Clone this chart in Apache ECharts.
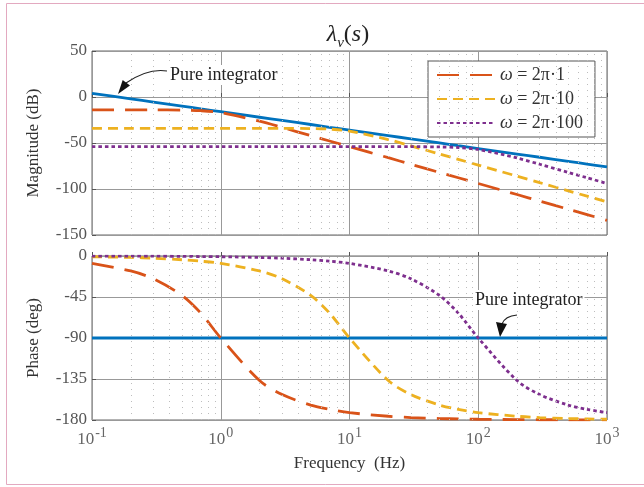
<!DOCTYPE html>
<html>
<head>
<meta charset="utf-8">
<script src="https://cdn.jsdelivr.net/npm/echarts@6/dist/echarts.min.js"></script>
<style>
  html, body { margin: 0; padding: 0; background: #fff; }
  #main { width: 644px; height: 487px; }
</style>
</head>
<body>
<div id="main"></div>
<script>
// frequency samples (Hz)
const freq = [0.1, 0.2, 0.3, 0.5, 0.7, 1, 2, 3, 5, 7, 10, 20, 30, 50, 70, 100, 200, 300, 500, 700, 1000];

// magnitude (dB)
const magInt  = [4.0, -2.0, -5.5, -9.9, -12.9, -16.0, -22.0, -25.5, -29.9, -32.9, -36.0, -42.0, -45.5, -49.9, -52.9, -56.0, -62.0, -65.5, -69.9, -72.9, -76.0];
const magW1   = [-14, -14, -14, -14.3, -14.9, -17, -26.3, -33.1, -42, -47.8, -54, -66, -73.1, -82, -87.8, -94, -106, -113.1, -122, -127.8, -134];
const magW10  = [-34, -34, -34, -34, -34, -34, -34, -34, -34.3, -34.9, -37, -46.3, -53.1, -62, -67.8, -74, -86, -93.1, -102, -107.8, -114];
const magW100 = [-54, -54, -54, -54, -54, -54, -54, -54, -54, -54, -54, -54, -54, -54.3, -54.9, -57, -66.3, -73.1, -82, -87.8, -94];

// phase (deg)
const phInt  = [-90, -90, -90, -90, -90, -90, -90, -90, -90, -90, -90, -90, -90, -90, -90, -90, -90, -90, -90, -90, -90];
const phW1   = [-8.1, -16.4, -25.0, -43.3, -62.7, -90, -136.7, -152.1, -163.6, -168.3, -171.9, -175.9, -177.3, -178.4, -178.8, -179.2, -179.6, -179.7, -179.8, -179.9, -179.9];
const phW10  = [-0.8, -1.6, -2.4, -4.1, -5.7, -8.1, -16.4, -25.0, -43.3, -62.7, -90, -136.7, -152.1, -163.6, -168.3, -171.9, -175.9, -177.3, -178.4, -178.8, -179.2];
const phW100 = [-0.1, -0.2, -0.2, -0.4, -0.6, -0.8, -1.6, -2.4, -4.1, -5.7, -8.1, -16.4, -25.0, -43.3, -62.7, -90, -136.7, -152.1, -163.6, -168.3, -171.9];

const minorFreq = [0.2, 0.3, 0.4, 0.5, 0.6, 0.7, 0.8, 0.9, 2, 3, 4, 5, 6, 7, 8, 9,
  20, 30, 40, 50, 60, 70, 80, 90, 200, 300, 400, 500, 600, 700, 800, 900];

const names = ['ω = 2π·1', 'ω = 2π·10', 'ω = 2π·100'];
const colors = ['#D95319', '#EDB120', '#7E2F8E'];
const dashes = [[22, 11], [10, 6], [3.5, 3]];
const blue = '#0072BD';

const serif = '"Liberation Serif", "DejaVu Serif", serif';
const pairs = ys => freq.map((f, i) => [f, ys[i]]);

function curve(name, ys, idx, color, type) {
  return {
    name: name, type: 'line', xAxisIndex: idx, yAxisIndex: idx,
    data: pairs(ys), symbol: 'none', showSymbol: false, smooth: 0.3, silent: true,
    lineStyle: { color: color, width: 2.8, type: type },
    itemStyle: { color: color }, z: 3
  };
}
function minorGrid(idx) {
  return {
    type: 'line', xAxisIndex: idx, yAxisIndex: idx, data: [], silent: true,
    markLine: {
      silent: true, symbol: 'none', label: { show: false },
      lineStyle: { color: '#bdbdbd', width: 1, type: [1, 5] },
      data: minorFreq.map(f => ({ xAxis: f }))
    }
  };
}

const chart = echarts.init(document.getElementById('main'));

const xBase = {
  type: 'log', logBase: 10, min: 0.1, max: 1000,
  axisLine: { show: false },
  axisTick: { show: true, inside: true, length: 4, lineStyle: { color: '#555' } },
  splitLine: { show: true, lineStyle: { color: '#999', width: 1 } }
};
const yBase = {
  type: 'value',
  axisLine: { show: false },
  axisTick: { show: true, inside: true, length: 4, lineStyle: { color: '#555' } },
  splitLine: { show: true, lineStyle: { color: '#999', width: 1 } },
  axisLabel: { color: '#555', fontFamily: serif, fontSize: 17, margin: 5 },
  nameLocation: 'middle', nameGap: 50,
  nameTextStyle: { color: '#333', fontFamily: serif, fontSize: 17 }
};

const series = [
  minorGrid(0), minorGrid(1),
  curve('Pure integrator', magInt, 0, blue, 'solid'),
  curve('Pure integrator', phInt, 1, blue, 'solid')
];
names.forEach((n, k) => {
  series.push(curve(n, [magW1, magW10, magW100][k], 0, colors[k], dashes[k]));
  series.push(curve(n, [phW1, phW10, phW100][k], 1, colors[k], dashes[k]));
});

chart.setOption({
  animation: false,
  backgroundColor: '#fff',
  grid: [
    { left: 92, right: 37, top: 51, height: 184, show: true, borderColor: '#666', borderWidth: 1, backgroundColor: 'transparent' },
    { left: 92, right: 37, top: 256, height: 164, show: true, borderColor: '#666', borderWidth: 1, backgroundColor: 'transparent' }
  ],
  xAxis: [
    Object.assign({}, xBase, { gridIndex: 0, axisLabel: { show: false } }),
    Object.assign({}, xBase, {
      gridIndex: 1,
      name: 'Frequency  (Hz)', nameLocation: 'middle', nameGap: 35,
      nameTextStyle: { color: '#333', fontFamily: serif, fontSize: 17 },
      axisLabel: {
        margin: 6,
        formatter: v => '{b|10}{s|' + Math.round(Math.log10(v)) + '}',
        rich: {
          b: { fontFamily: serif, fontSize: 17, color: '#666', verticalAlign: 'bottom', lineHeight: 22, padding: [0, 1, 0, 0] },
          s: { fontFamily: serif, fontSize: 14, color: '#666', verticalAlign: 'top', lineHeight: 14 }
        }
      }
    })
  ],
  yAxis: [
    Object.assign({}, yBase, { gridIndex: 0, min: -150, max: 50, interval: 50, name: 'Magnitude (dB)' }),
    Object.assign({}, yBase, { gridIndex: 1, min: -180, max: 0, interval: 45, name: 'Phase (deg)' })
  ],
  legend: {
    data: names, orient: 'vertical', left: 428, top: 61,
    padding: [5, 12, 5, 8], itemGap: 6, itemWidth: 58, itemHeight: 18,
    backgroundColor: '#fff', borderColor: '#555', borderWidth: 1,
    selectedMode: false,
    itemStyle: { opacity: 0 },
    formatter: n => n.replace('ω', '{i|ω}'),
    textStyle: {
      fontFamily: serif, fontSize: 18, color: '#333',
      rich: {
        i: { fontFamily: serif, fontSize: 18, fontStyle: 'italic', color: '#333' }
      }
    }
  },
  graphic: [
    { type: 'rect', shape: { x: 6.5, y: 3.5, width: 640, height: 481 }, silent: true,
      style: { fill: 'none', stroke: '#e3a9c0', lineWidth: 1 }, z: 100 },
    { type: 'text', x: 348, y: 37, z: 100,
      style: {
        text: '{l|λ}{n|ν}{p|(}{l|s}{p|)}', align: 'center', verticalAlign: 'middle',
        rich: {
          l: { fontFamily: serif, fontSize: 24, fontStyle: 'italic', fill: '#222', verticalAlign: 'top', lineHeight: 28 },
          n: { fontFamily: serif, fontSize: 15, fontStyle: 'italic', fill: '#222', verticalAlign: 'bottom' },
          p: { fontFamily: serif, fontSize: 24, fill: '#222', verticalAlign: 'top', lineHeight: 28 }
        }
      } },
    { type: 'text', x: 168, y: 75, z: 100,
      style: { text: 'Pure integrator', fontFamily: serif, fontSize: 18, fill: '#222', verticalAlign: 'middle',
        backgroundColor: '#fff', padding: [1, 2] } },
    { type: 'bezierCurve', z: 100, silent: true,
      shape: { x1: 167, y1: 71, cpx1: 148, cpy1: 68, x2: 126, y2: 83 },
      style: { stroke: '#222', lineWidth: 1.2, fill: 'none' } },
    { type: 'polygon', z: 100, silent: true,
      shape: { points: [[118, 94], [130, 85.4], [122.7, 80]] },
      style: { fill: '#111' } },
    { type: 'text', x: 473, y: 300, z: 100,
      style: { text: 'Pure integrator', fontFamily: serif, fontSize: 18, fill: '#222', verticalAlign: 'middle',
        backgroundColor: '#fff', padding: [1, 2] } },
    { type: 'bezierCurve', z: 100, silent: true,
      shape: { x1: 517, y1: 315, cpx1: 505, cpy1: 316, x2: 502, y2: 324 },
      style: { stroke: '#222', lineWidth: 1.2, fill: 'none' } },
    { type: 'polygon', z: 100, silent: true,
      shape: { points: [[500, 337], [496, 322], [507, 324]] },
      style: { fill: '#111' } }
  ],
  series: series
});
</script>
</body>
</html>
